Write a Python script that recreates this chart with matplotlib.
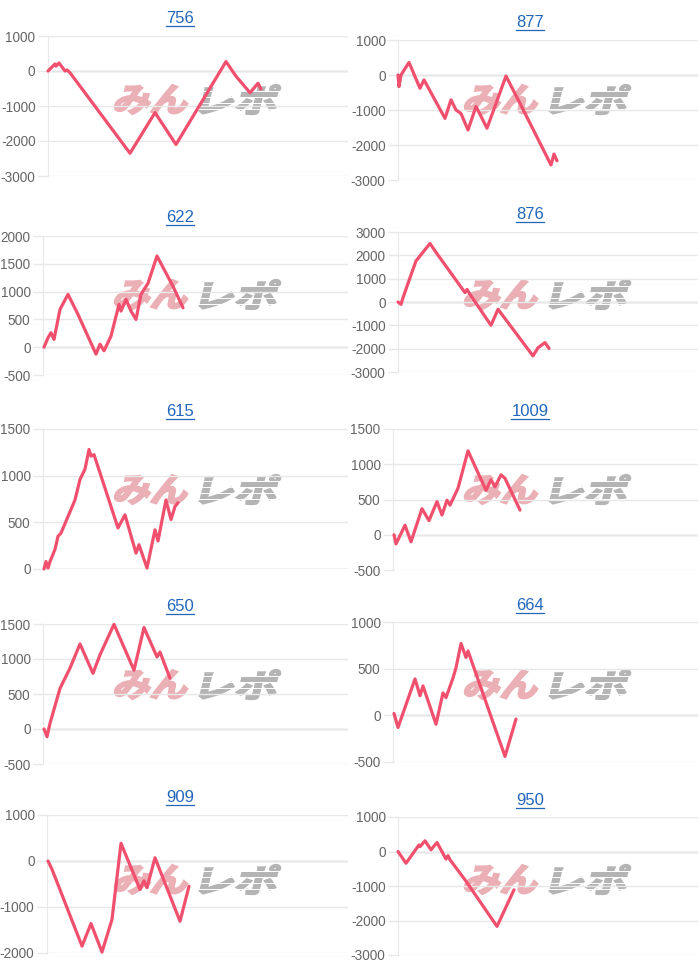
import numpy as np
import matplotlib
matplotlib.use('Agg')
import matplotlib.pyplot as plt
from matplotlib.textpath import TextPath
from matplotlib.patches import PathPatch
from matplotlib.font_manager import FontProperties
from matplotlib.transforms import Affine2D
from matplotlib.lines import Line2D

plt.rcParams['axes.unicode_minus'] = False

W, H = 700, 973

titles = ['756', '877', '622', '876', '615', '1009', '650', '664', '909', '950']

# x = position along the run (axis spans the full plot width), y = balance
x_756 = [0, 7, 8, 11, 17, 19, 22, 82, 107, 128, 178, 188, 202, 210, 213]
y_756 = [0, 200, 140, 230, 0, 30, -50, -2350, -1190, -2100, 270, -150, -620, -350, -520]

x_877 = [0, 1, 3, 11, 22, 26, 47, 53, 58, 63, 70, 78, 89, 108, 122, 153, 156, 159]
y_877 = [0, -330, 0, 360, -380, -140, -1240, -710, -1000, -1100, -1570, -900, -1520,
         -30, -810, -2570, -2260, -2450]

x_622 = [1, 5, 8, 11, 17, 25, 35, 53, 57, 61, 68, 76, 78, 83, 88, 93, 98, 105, 114, 130, 140]
y_622 = [0, 170, 260, 140, 680, 950, 590, -125, 55, -65, 200, 770, 650, 860, 650, 500,
         950, 1150, 1640, 1095, 710]

x_876 = [0, 3, 5, 12, 18, 32, 37, 67, 69, 72, 93, 100, 135, 140, 147, 151]
y_876 = [0, -100, 185, 1040, 1760, 2510, 2190, 400, 540, 330, -1000, -310, -2310,
         -1960, -1740, -1990]

x_615 = [1, 3, 5, 7, 12, 15, 18, 32, 37, 42, 46, 48, 51, 57, 75, 82, 93, 96, 104, 112,
         115, 123, 128, 132, 135]
y_615 = [0, 80, 10, 80, 210, 350, 385, 740, 960, 1070, 1280, 1210, 1225, 1030, 440, 580,
         170, 260, 10, 420, 300, 740, 530, 670, 710]

x_1009 = [1, 3, 12, 18, 29, 36, 44, 49, 54, 57, 65, 75, 93, 98, 102, 108, 112, 127]
y_1009 = [0, -130, 135, -100, 370, 200, 470, 280, 490, 420, 660, 1190, 630, 780, 680,
          850, 800, 350]

x_650 = [1, 4, 7, 17, 27, 37, 50, 57, 71, 91, 101, 114, 117, 127]
y_650 = [0, -110, 80, 580, 870, 1215, 795, 1060, 1495, 840, 1450, 1030, 1100, 725]

x_664 = [1, 5, 22, 27, 30, 43, 50, 53, 60, 63, 68, 73, 75, 112, 123]
y_664 = [20, -130, 390, 210, 315, -95, 240, 190, 400, 510, 770, 620, 690, -440, -40]

x_909 = [1, 5, 35, 44, 55, 65, 74, 93, 97, 100, 108, 133, 142]
y_909 = [0, -180, -1850, -1360, -1980, -1270, 385, -620, -430, -580, 70, -1310, -550]

x_950 = [0, 8, 21, 22, 27, 33, 39, 48, 50, 52, 67, 99, 116]
y_950 = [0, -340, 190, 140, 310, 50, 260, -220, -120, -240, -820, -2170, -1110]

xs = [x_756, x_877, x_622, x_876, x_615, x_1009, x_650, x_664, x_909, x_950]
ys = [y_756, y_877, y_622, y_876, y_615, y_1009, y_650, y_664, y_909, y_950]

# y axis range and tick step for each panel
y_ranges = [(-3000, 1000, 1000), (-3000, 1000, 1000), (-500, 2000, 500), (-3000, 3000, 1000),
            (0, 1500, 500), (-500, 1500, 500), (-500, 1500, 500), (-500, 1000, 500),
            (-2000, 1000, 1000), (-3000, 1000, 1000)]

# plot boxes in pixels: left, top, right, bottom ; title baseline
boxes = [(48, 36, 348, 176), (398, 40, 698, 180),
         (43, 236, 348, 375), (398, 232, 698, 372),
         (43, 429, 348, 569), (393, 429, 698, 570),
         (43, 624, 348, 764), (393, 622, 698, 762),
         (47, 815, 348, 953), (398, 817, 698, 955)]
title_base = [23, 27, 222, 219, 416, 416, 611, 610, 802, 805]
row_tops = [0, 195, 390, 585, 780]

line_col = '#f0506e'
grid_col = '#e8e8e8'
zero_col = '#c4c4c4'
link_col = '#2266bb'

fig = plt.figure(figsize=(W / 100, H / 100), dpi=100)
fig.patch.set_facecolor('white')

# watermark ("みんレポ") drawn behind every chart
fp = FontProperties(family='Noto Sans CJK JP', weight='bold')


def mark_part(s, x0, x1, y0, y1, color, ang=14):
    tp = TextPath((0, 0), s, size=50, prop=fp)
    ext = tp.get_extents()
    sh = np.tan(np.radians(ang)) * (y1 - y0)
    sx = (x1 - x0 - sh) / ext.width
    sy = (y1 - y0) / ext.height
    tr = (Affine2D().translate(-ext.x0, -ext.y0).scale(sx, sy)
          .skew_deg(ang, 0).translate(x0, H - y1))
    fig.add_artist(PathPatch(tp, transform=tr, facecolor=color, edgecolor=color,
                             lw=1.6, joinstyle='miter', zorder=-5))


for top in row_tops:
    for col in [0, 350]:
        mark_part('みん', col + 113, col + 192, top + 85, top + 114, '#eab0b5')
        mark_part('レポ', col + 199, col + 281, top + 85, top + 114, '#b4b4b4')
        # speed streaks cut through the grey part
        for dy in [91, 97, 103, 109]:
            yy = H - (top + dy)
            fig.add_artist(Line2D([col + 196, col + 286], [yy, yy], color='white',
                                  lw=0.7, transform=Affine2D(), zorder=-4))

title_texts = []
for i in range(10):
    l, t, r, b = boxes[i]
    ax = fig.add_axes([l / W, 1 - b / H, (r - l) / W, (b - t) / H])
    ax.set_facecolor('none')
    lo, hi, step = y_ranges[i]
    ax.set_xlim(0, r - l)
    ax.set_ylim(lo, hi)
    ax.set_yticks(np.arange(lo, hi + 1, step))
    ax.set_xticks([])
    for k in ['top', 'right', 'bottom']:
        ax.spines[k].set_visible(False)
    ax.spines['left'].set_color(grid_col)
    ax.grid(axis='y', color=grid_col, lw=1)
    ax.axhline(0, color=zero_col, lw=1, zorder=1)
    ax.tick_params(axis='y', length=7, width=1, color=grid_col, labelcolor='#666666',
                   labelsize=9.8, pad=2)
    for lab in ax.get_yticklabels():
        lab.set_fontfamily('Liberation Sans')
    ax.plot(xs[i], ys[i], color=line_col, lw=2.3, solid_joinstyle='round',
            solid_capstyle='round', zorder=3, clip_on=False)

    cx = 180 if i % 2 == 0 else 530
    tt = fig.text(cx / W, 1 - title_base[i] / H, titles[i], ha='center', va='baseline',
                  color=link_col, fontsize=12, fontfamily='Liberation Sans')
    title_texts.append(tt)

# underline the titles like links
fig.canvas.draw()
for i, tt in enumerate(title_texts):
    bb = tt.get_window_extent()
    yl = H - title_base[i] - 2.5
    fig.add_artist(Line2D([bb.x0, bb.x1], [yl, yl], color=link_col, lw=0.9,
                          transform=Affine2D()))

fig.savefig('out.png', dpi=100)
